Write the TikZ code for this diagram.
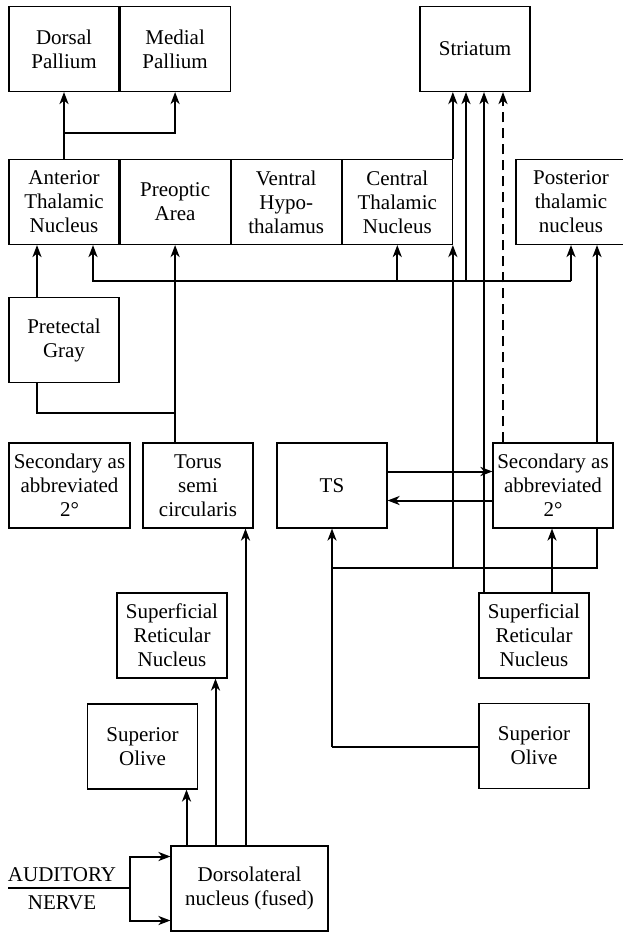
\documentclass[tikz,border=0pt]{standalone}
\usepackage{fontspec}
\setmainfont{Liberation Serif}
\usetikzlibrary{positioning,arrows.meta}

\begin{document}
\begin{tikzpicture}[x=1pt, y=-1pt, >={Stealth[length=12pt,width=9pt,inset=3.5pt]},
    box/.style={draw, line width=1.1pt, minimum width=110pt, minimum height=85pt, align=center, inner sep=2pt, font=\fontsize{21}{24}\selectfont},
    widebox/.style={box, minimum width=121pt},
    link/.style={line width=2pt},
    nervetext/.style={inner sep=0pt, font=\fontsize{21}{24}\selectfont}]
    \useasboundingbox (0,0) rectangle (622,932);

    % top row
    \node[box] (dp) at (64,49) {Dorsal\\Pallium};
    \node[box, right=0pt of dp] (mp) {Medial\\Pallium};
    \node[box] (str) at (475,49) {Striatum};

    % thalamus row
    \node[box] (atn) at (64,202) {Anterior\\Thalamic\\Nucleus};
    \node[box, right=0pt of atn] (poa) {Preoptic\\Area};
    \node[box, right=0pt of poa] (vh) {Ventral\\Hypo-\\thalamus};
    \node[box, right=0pt of vh] (ctn) {Central\\Thalamic\\Nucleus};
    \node[box] (ptn) at (571,202) {Posterior\\thalamic\\nucleus};

    \node[box] (pg) at (64,340) {Pretectal\\Gray};

    % midbrain row
    \node[widebox] (sec1) at (69.5,485.5) {Secondary as\\abbreviated\\2°};
    \node[box] (tor) at (198,485.5) {Torus\\semi\\circularis};
    \node[box] (ts) at (332,485.5) {TS};
    \node[widebox, minimum width=120pt] (sec2) at (553,485.5) {Secondary as\\abbreviated\\2°};

    % hindbrain
    \node[box] (sr1) at (172,635.5) {Superficial\\Reticular\\Nucleus};
    \node[box] (sr2) at (534,635.5) {Superficial\\Reticular\\Nucleus};
    \node[box] (so1) at (142.5,746.5) {Superior\\Olive};
    \node[box] (so2) at (534,746) {Superior\\Olive};
    \node[box, minimum width=157pt] (dl) at (249.5,888.5) {Dorsolateral\\nucleus (fused)};

    \node[nervetext] (aud) at (62,875) {AUDITORY};
    \node[nervetext] (nrv) at (62,903) {NERVE};

    % junctions
    \coordinate (pj) at (64,133);
    \coordinate (tj) at (174,413);
    \coordinate (hr) at (571,281);
    \coordinate (sj) at (466,281);
    \coordinate (bj) at (332,568);
    \coordinate (soj) at (332,747);
    \coordinate (an0) at (8,888);
    \coordinate (anj) at (130,888);

    % forebrain links
    \draw[link,->] (atn.north) -- (dp.south);
    \draw[link,->] (pj) -| (mp.south);
    \draw[link,->] (tor.north -| poa.south) -- (poa.south);
    \draw[link,->] ([xshift=-27pt]pg.north) -- ([xshift=-27pt]atn.south);
    \draw[link] ([xshift=-27pt]pg.south) |- (tj);
    \draw[link,->] (hr) -| ([xshift=29pt]atn.south);
    \draw[link,->] (ctn.south |- hr) -- (ctn.south);
    \draw[link,->] (hr) -- (ptn.south);
    \draw[link,->] (sj) -- (sj |- str.south);

    % to striatum
    \draw[link,->] (bj -| ctn.south east) -- (ctn.south east);
    \draw[link,->] (ctn.north east) -- (ctn.north east |- str.south);
    \draw[link,->] ([xshift=-50pt]sr2.north) -- ([xshift=-50pt]sr2.north |- str.south);
    \draw[link,dash pattern=on 10pt off 6pt,->] ([xshift=-50pt]sec2.north) -- ([xshift=-50pt]sec2.north |- str.south);
    \draw[link,->] ([xshift=44pt]sec2.north) -- ([xshift=44pt]sec2.north |- ptn.south);
    \draw[link] ([xshift=44pt]sec2.south) |- (bj);

    % TS and secondary nucleus
    \draw[link,->] ([yshift=14pt]ts.east) -- ([yshift=14pt]ts.east -| sec2.west);
    \draw[link,->] ([yshift=-15pt]sec2.west) -- ([yshift=-15pt]sec2.west -| ts.east);
    \draw[link,->] (soj) -- (ts.south);
    \draw[link] (so2.west |- soj) -- (soj);
    \draw[link,->] ([xshift=18pt]sr2.north) -- ([xshift=18pt]sr2.north |- sec2.south);

    % from dorsolateral nucleus
    \draw[link,->] ([xshift=-63pt]dl.north) -- ([xshift=-63pt]dl.north |- so1.south);
    \draw[link,->] ([xshift=-34pt]dl.north) -- ([xshift=-34pt]dl.north |- sr1.south);
    \draw[link,->] ([xshift=-4pt]dl.north) -- ([xshift=-4pt]dl.north |- tor.south);
    \draw[link] (an0) -- (anj);
    \draw[link,->] (anj) |- ([yshift=32pt]dl.west);
    \draw[link,->] (anj) |- ([yshift=-32pt]dl.west);
\end{tikzpicture}
\end{document}
